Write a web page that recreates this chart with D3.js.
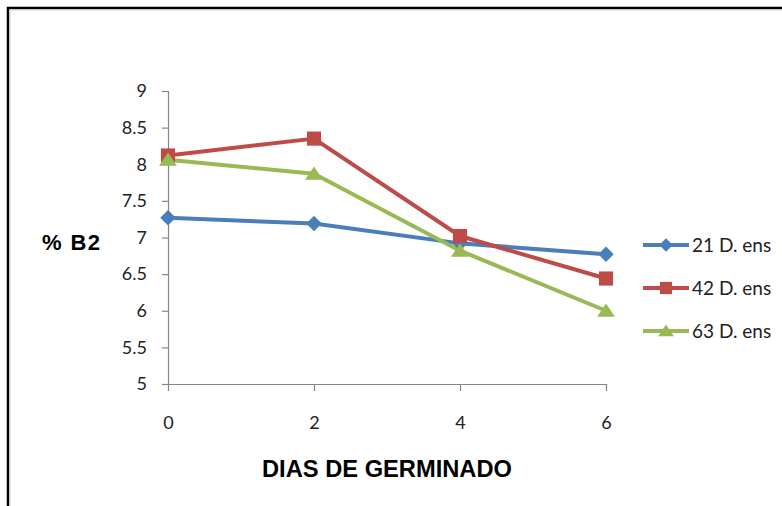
<!DOCTYPE html>
<html>
<head>
<meta charset="utf-8">
<script src="https://cdn.jsdelivr.net/npm/d3@7/dist/d3.min.js"></script>
<style>
  html, body { margin: 0; padding: 0; background: #fff; }
  svg { display: block; }
</style>
</head>
<body>
<script>
// Días de germinado (x) and % B2 per treatment
const days = [0, 2, 4, 6];
const yTicks = [5, 5.5, 6, 6.5, 7, 7.5, 8, 8.5, 9];
const seriesNames = ["21 D. ens", "42 D. ens", "63 D. ens"];
const values21 = [7.27, 7.19, 6.92, 6.77];
const values42 = [8.12, 8.35, 7.02, 6.44];
const values63 = [8.06, 7.87, 6.82, 6.00];
const colors = ["#4A7EBB", "#BE4B48", "#98B954"];

// marker shapes: wide diamond (rotated square), square, triangle
const wideDiamond = {
  draw(ctx, size) {
    const r = Math.sqrt(size) / 2 * Math.SQRT2;
    ctx.moveTo(0, -r); ctx.lineTo(r, 0); ctx.lineTo(0, r); ctx.lineTo(-r, 0); ctx.closePath();
  }
};
const wideTriangle = {
  draw(ctx, size) {
    const s = Math.sqrt(size);
    const h = s * 0.9;
    ctx.moveTo(0, -h * 0.55); ctx.lineTo(s * 0.6, h * 0.45); ctx.lineTo(-s * 0.6, h * 0.45); ctx.closePath();
  }
};
const markerTypes = [wideDiamond, d3.symbolSquare, wideTriangle];

const series = seriesNames.map((name, i) => ({
  name,
  values: [values21, values42, values63][i],
  color: colors[i],
  symbol: markerTypes[i]
}));

const W = 782, H = 506;
const svg = d3.select("body").append("svg").attr("width", W).attr("height", H);

// chart frame
svg.append("rect").attr("x", 0).attr("y", 0).attr("width", W).attr("height", H).attr("fill", "#fff");
svg.append("path")
  .attr("d", `M8,${H} L8,8 L${W},8`)
  .attr("fill", "none").attr("stroke", "#000").attr("stroke-width", 2.5);
svg.append("path")
  .attr("d", `M10,${H} L10,10 L${W},10`)
  .attr("fill", "none").attr("stroke", "#d0d0d0").attr("stroke-width", 1);

const x = d3.scalePoint().domain(days).range([168, 606]);
const y = d3.scaleLinear().domain([5, 9]).range([384, 91]);

const axisColor = "#868686";
const tickFont = "Lato, 'Open Sans', sans-serif";

// y axis
const gy = svg.append("g").attr("transform", "translate(168,0)")
  .call(d3.axisLeft(y).tickValues(yTicks).tickSize(6).tickPadding(15)
    .tickFormat(d => String(d)));
gy.select(".domain").attr("stroke", axisColor).attr("stroke-width", 1.2);
gy.selectAll(".tick line").attr("stroke", axisColor).attr("stroke-width", 1.2);
gy.selectAll(".tick text").attr("fill", "#222").style("font-family", tickFont).style("font-size", "18px");

// x axis
const gx = svg.append("g").attr("transform", "translate(0,384)")
  .call(d3.axisBottom(x).tickSize(7).tickPadding(25).tickSizeOuter(0));
gx.select(".domain").attr("stroke", axisColor).attr("stroke-width", 1.2);
gx.selectAll(".tick line").attr("stroke", axisColor).attr("stroke-width", 1.2);
gx.selectAll(".tick text").attr("fill", "#222").style("font-family", tickFont).style("font-size", "18px");

// axis titles
svg.append("text")
  .attr("x", 387).attr("y", 477)
  .attr("text-anchor", "middle")
  .style("font-family", "'Liberation Sans', Arial, sans-serif")
  .style("font-weight", "bold").style("font-size", "23px")
  .attr("textLength", 250).attr("lengthAdjust", "spacingAndGlyphs")
  .text("DIAS DE GERMINADO");
svg.append("text")
  .attr("x", 42).attr("y", 250)
  .style("font-family", "'Liberation Sans', Arial, sans-serif")
  .style("font-weight", "bold").style("font-size", "22px")
  .attr("textLength", 58).attr("lengthAdjust", "spacing")
  .text("% B2");

// series lines
const line = d3.line().x((d, i) => x(days[i])).y(d => y(d));
series.forEach(s => {
  svg.append("path")
    .datum(s.values)
    .attr("d", line)
    .attr("fill", "none")
    .attr("stroke", s.color)
    .attr("stroke-width", 4)
    .attr("stroke-linejoin", "round");
});

// markers
const symbolSizes = [120, 200, 220];
series.forEach((s, si) => {
  svg.append("g").selectAll("path")
    .data(s.values)
    .join("path")
    .attr("transform", (d, i) => `translate(${x(days[i])},${y(d)})`)
    .attr("d", d3.symbol().type(s.symbol).size(symbolSizes[si]))
    .attr("fill", s.color);
});

// legend
const legendSizes = [90, 150, 170];
const legend = svg.append("g");
series.forEach((s, i) => {
  const ly = 245 + i * 43;
  const g = legend.append("g").attr("transform", `translate(0,${ly})`);
  g.append("line").attr("x1", 643).attr("x2", 689).attr("y1", 0).attr("y2", 0)
    .attr("stroke", s.color).attr("stroke-width", 4);
  g.append("path").attr("transform", "translate(666,0)")
    .attr("d", d3.symbol().type(s.symbol).size(legendSizes[i])).attr("fill", s.color);
  g.append("text").attr("x", 692).attr("y", 7)
    .style("font-family", tickFont).style("font-size", "19px").attr("fill", "#222")
    .text(s.name);
});
</script>
</body>
</html>
